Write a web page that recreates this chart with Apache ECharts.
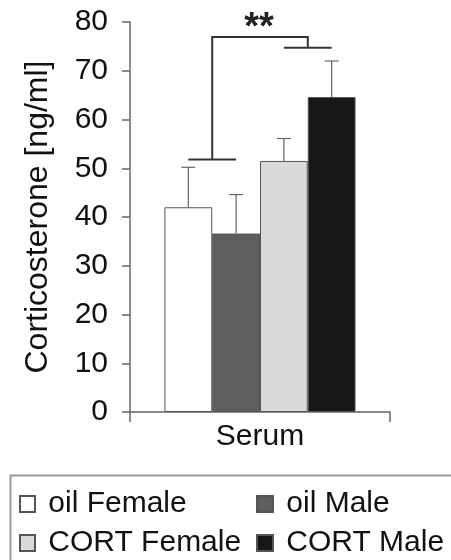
<!DOCTYPE html>
<html>
<head>
<meta charset="utf-8">
<script src="https://cdn.jsdelivr.net/npm/echarts@6/dist/echarts.min.js"></script>
<style>
html,body{margin:0;padding:0;background:#fff;}
#chart{width:451px;height:560px;}
</style>
</head>
<body>
<div id="chart"></div>
<script>
// ---- data ----
const categories = ['Serum'];
const seriesNames = ['oil Female', 'oil Male', 'CORT Female', 'CORT Male'];
const means = [42.0, 36.6, 51.5, 64.6];
const errorsUp = [8.2, 8.0, 4.6, 7.4];
const seriesColors = ['#ffffff', '#5e5e5e', '#dadada', '#171717'];
const yMin = 0, yMax = 80, yInterval = 10;
const yAxisTitle = 'Corticosterone [ng/ml]';
// significance bracket levels: left (oil pair), top, right (CORT pair)
const bracketLevels = [51.8, 76.9, 74.7];
const sigLabel = '**';

const FONT = '"Liberation Sans", Arial, sans-serif';
const catGap = 0.265;

function barCenter(api, catIdx, i) {
  const c = api.coord([catIdx, 0]);
  const band = api.size([1, 0])[0];
  const bw = band * (1 - catGap) / seriesNames.length;
  return c[0] + (i - (seriesNames.length - 1) / 2) * bw;
}

const barSeries = seriesNames.map((name, i) => ({
  name: name,
  type: 'bar',
  data: [means[i]],
  barGap: 0,
  barCategoryGap: (catGap * 100) + '%',
  itemStyle: { color: seriesColors[i], borderColor: '#555', borderWidth: 1 },
  emphasis: { disabled: true },
  z: 2
}));

const errData = means.map((m, i) => [0, i, m, errorsUp[i]]);

const legendText = { fontSize: 30, lineHeight: 30, color: '#111', fontFamily: FONT };

const option = {
  animation: false,
  backgroundColor: '#fff',
  grid: { left: 130, right: 61, top: 22, bottom: 148, containLabel: false },
  xAxis: {
    type: 'category',
    data: categories,
    axisLine: { lineStyle: { color: '#666', width: 1.5 } },
    axisTick: { show: true, length: 10, lineStyle: { color: '#666', width: 1.5 } },
    axisLabel: { fontSize: 30, color: '#111', fontFamily: FONT, margin: 10 }
  },
  yAxis: {
    type: 'value',
    min: yMin, max: yMax, interval: yInterval,
    name: yAxisTitle,
    nameLocation: 'middle',
    nameGap: 76,
    nameTextStyle: { fontSize: 32, color: '#111', fontFamily: FONT },
    axisLine: { show: true, lineStyle: { color: '#666', width: 1.5 } },
    axisTick: { show: true, length: 8, lineStyle: { color: '#666', width: 1.5 } },
    axisLabel: { fontSize: 30, color: '#111', fontFamily: FONT, margin: 22 },
    splitLine: { show: false }
  },
  legend: [
    {
      data: [seriesNames[0], seriesNames[2]],
      orient: 'vertical', left: 14, top: 484, height: 100, width: 240,
      icon: 'rect', itemWidth: 15, itemHeight: 16, itemGap: 9,
      formatter: ' {name}',
      textStyle: legendText,
      selectedMode: false
    },
    {
      data: [seriesNames[1], seriesNames[3]],
      orient: 'vertical', left: 251, top: 484, height: 100, width: 200,
      icon: 'rect', itemWidth: 16, itemHeight: 16, itemGap: 9,
      formatter: ' {name}',
      textStyle: legendText,
      selectedMode: false
    }
  ],
  graphic: [
    { type: 'rect', left: 8, top: 473, shape: { width: 480, height: 120 },
      style: { fill: 'none', stroke: '#999', lineWidth: 2 }, silent: true }
  ],
  series: barSeries.concat([
    {
      name: 'error',
      type: 'custom',
      data: errData,
      encode: { x: 0, y: 2 },
      z: 3,
      renderItem: function (params, api) {
        const cat = api.value(0), i = api.value(1), m = api.value(2), e = api.value(3);
        const cx = barCenter(api, cat, i);
        const y0 = api.coord([cat, m])[1];
        const y1 = api.coord([cat, m + e])[1];
        const capHalf = 7;
        const st = { stroke: '#666', lineWidth: 1.2 };
        return {
          type: 'group',
          children: [
            { type: 'line', shape: { x1: cx, y1: y0, x2: cx, y2: y1 }, style: st },
            { type: 'line', shape: { x1: cx - capHalf, y1: y1, x2: cx + capHalf, y2: y1 }, style: st }
          ]
        };
      }
    },
    {
      name: 'significance',
      type: 'custom',
      data: [[0, bracketLevels[0], bracketLevels[1], bracketLevels[2]]],
      encode: { x: 0, y: 2 },
      z: 4,
      clip: false,
      renderItem: function (params, api) {
        const cat = api.value(0);
        const c = [0, 1, 2, 3].map(i => barCenter(api, cat, i));
        const yL = api.coord([cat, api.value(1)])[1];
        const yT = api.coord([cat, api.value(2)])[1];
        const yR = api.coord([cat, api.value(3)])[1];
        const m01 = (c[0] + c[1]) / 2, m23 = (c[2] + c[3]) / 2;
        const st = { stroke: '#333', lineWidth: 2, fill: null };
        return {
          type: 'group',
          children: [
            { type: 'line', shape: { x1: c[0], y1: yL, x2: c[1], y2: yL }, style: st },
            { type: 'polyline', shape: { points: [[m01, yL], [m01, yT], [m23, yT], [m23, yR]] }, style: st },
            { type: 'line', shape: { x1: c[2], y1: yR, x2: c[3], y2: yR }, style: st },
            { type: 'text', x: (m01 + m23) / 2 - 1, y: yT + 10,
              style: { text: sigLabel, fill: '#222', font: 'bold 38px ' + FONT, align: 'center', verticalAlign: 'bottom' } }
          ]
        };
      }
    }
  ])
};

const chart = echarts.init(document.getElementById('chart'), null, { renderer: 'canvas' });
chart.setOption(option);
</script>
</body>
</html>
